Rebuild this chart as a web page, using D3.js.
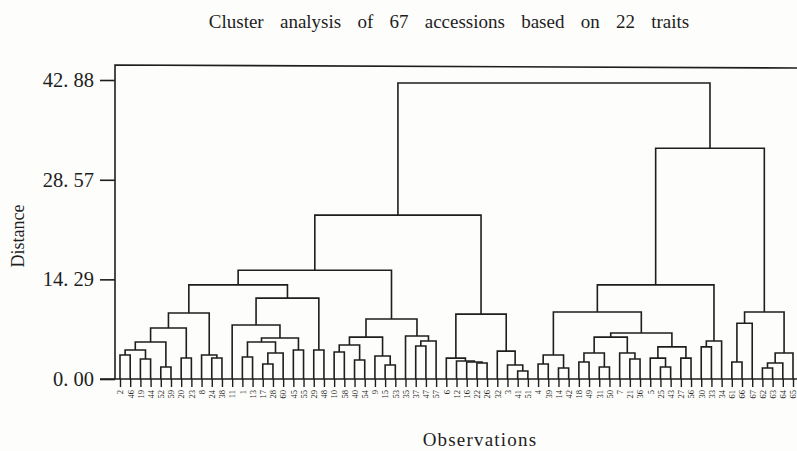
<!DOCTYPE html>
<html>
<head>
<meta charset="utf-8">
<script src="https://cdn.jsdelivr.net/npm/d3@7"></script>
<style>
  body { margin: 0; background: #fdfdfb; }
  text { font-family: "Liberation Serif", "DejaVu Serif", serif; fill: #1e1e1e; }
</style>
</head>
<body>
<svg id="chart" width="797" height="451"></svg>
<script>
// leaf order, left to right
var leaves = ["2","46","19","44","52","59","20","23","8","24","38","11","1","13","17","28","60","45","55","29","48",
  "10","58","40","54","9","15","53","35","37","47","57","6","12","16","22","26","32","3","41","51",
  "4","39","14","42","18","49","31","50","7","21","36","5","25","43","27","56","30","33","34",
  "61","66","67","62","63","64","65"];

// merges: [left, right, distance]. ids < 67 are leaf positions, 67 + k is merge k
var merges = [
  [0, 1, 3.44], [2, 3, 2.87], [67, 68, 4.16], [4, 5, 1.72], [69, 70, 5.31],
  [6, 7, 3.01], [71, 72, 7.31], [9, 10, 3.01], [8, 74, 3.44], [73, 75, 9.47],
  [12, 13, 3.16], [14, 15, 2.15], [78, 16, 3.73], [77, 79, 5.31], [17, 18, 4.16],
  [80, 81, 5.88], [11, 82, 7.74], [19, 20, 4.16], [83, 84, 11.6], [76, 85, 13.5],
  [21, 22, 3.87], [23, 24, 2.72], [87, 88, 4.88], [26, 27, 2.0], [25, 90, 3.3],
  [89, 91, 6.0], [29, 30, 4.73], [93, 31, 5.45], [28, 94, 6.17], [92, 95, 8.6],
  [86, 96, 15.6], [35, 36, 2.3], [34, 98, 2.44], [33, 99, 2.58], [32, 100, 3.0],
  [39, 40, 1.15], [38, 102, 2.0], [37, 103, 4.0], [101, 104, 9.3], [97, 105, 23.5],
  [41, 42, 2.15], [43, 44, 1.58], [107, 108, 3.44], [45, 46, 2.44], [47, 48, 1.72],
  [110, 111, 3.73], [50, 51, 2.87], [49, 113, 3.73], [112, 114, 6.0], [53, 54, 1.72],
  [52, 116, 3.0], [55, 56, 3.0], [117, 118, 4.6], [115, 119, 6.6], [109, 120, 9.6],
  [57, 58, 4.6], [122, 59, 5.45], [121, 123, 13.5], [60, 61, 2.44], [125, 62, 8.0],
  [63, 64, 1.58], [127, 65, 2.3], [128, 66, 3.73], [126, 129, 9.6], [124, 130, 33.1],
  [106, 131, 42.45]
];

var yTicks = [0, 14.29, 28.57, 42.88];
var yTickLabels = ["0. 00", "14. 29", "28. 57", "42. 88"];

var svg = d3.select("#chart");
var n = leaves.length;

var x = d3.scalePoint().domain(d3.range(n)).range([120, 793]);
var y = d3.scaleLinear().domain([0, 42.88]).range([379, 80]);

// node positions
var nodeX = [], nodeH = [];
for (var i = 0; i < n; i++) { nodeX[i] = x(i); nodeH[i] = 0; }
merges.forEach(function(m, k) {
  nodeX[n + k] = (nodeX[m[0]] + nodeX[m[1]]) / 2;
  nodeH[n + k] = m[2];
});

var ink = "#1e1e1e";

// frame
svg.append("path")
  .attr("d", "M115,379V65L797,68")
  .attr("fill", "none").attr("stroke", ink).attr("stroke-width", 1.6);
svg.append("line")
  .attr("x1", 100).attr("x2", 797).attr("y1", y(0)).attr("y2", y(0))
  .attr("stroke", ink).attr("stroke-width", 1.6);

// dendrogram links
svg.append("g").selectAll("path")
  .data(merges)
  .enter()
  .append("path")
    .attr("fill", "none")
    .attr("stroke", ink)
    .attr("stroke-width", 1.6)
    .attr("d", function(m) {
      return "M" + nodeX[m[0]] + "," + y(nodeH[m[0]]) +
             "V" + y(m[2]) + "H" + nodeX[m[1]] + "V" + y(nodeH[m[1]]);
    });

// y axis
var yAxis = svg.append("g")
  .attr("transform", "translate(115,0)")
  .call(d3.axisLeft(y).tickValues(yTicks).tickSize(15).tickPadding(6)
    .tickFormat(function(d, i) { return yTickLabels[i]; }));
yAxis.select(".domain").remove();
yAxis.selectAll("line").attr("stroke", ink).attr("stroke-width", 1.6);
yAxis.selectAll("text").attr("font-size", 20.5).attr("font-family", null).attr("fill", ink);

// x axis (leaf labels)
var xAxis = svg.append("g")
  .attr("transform", "translate(0," + y(0) + ")")
  .call(d3.axisBottom(x).tickSize(8).tickSizeOuter(0)
    .tickFormat(function(d) { return leaves[d]; }));
xAxis.select(".domain").remove();
xAxis.selectAll("line").attr("stroke", ink).attr("stroke-width", 1.4);
xAxis.selectAll("text")
  .attr("font-size", 8.5)
  .attr("font-family", null)
  .attr("fill", ink)
  .attr("transform", "rotate(-90)")
  .attr("x", -11)
  .attr("y", 0)
  .attr("dy", "0.33em")
  .style("text-anchor", "end");

// titles
svg.append("text")
  .attr("x", 449).attr("y", 28)
  .attr("text-anchor", "middle")
  .attr("font-size", 19)
  .attr("word-spacing", 11.5)
  .text("Cluster analysis of 67 accessions based on 22 traits");

svg.append("text")
  .attr("x", 480).attr("y", 446)
  .attr("text-anchor", "middle")
  .attr("font-size", 19)
  .attr("letter-spacing", 1.2)
  .text("Observations");

svg.append("text")
  .attr("transform", "translate(24,236) rotate(-90)")
  .attr("text-anchor", "middle")
  .attr("font-size", 18)
  .text("Distance");
</script>
</body>
</html>
